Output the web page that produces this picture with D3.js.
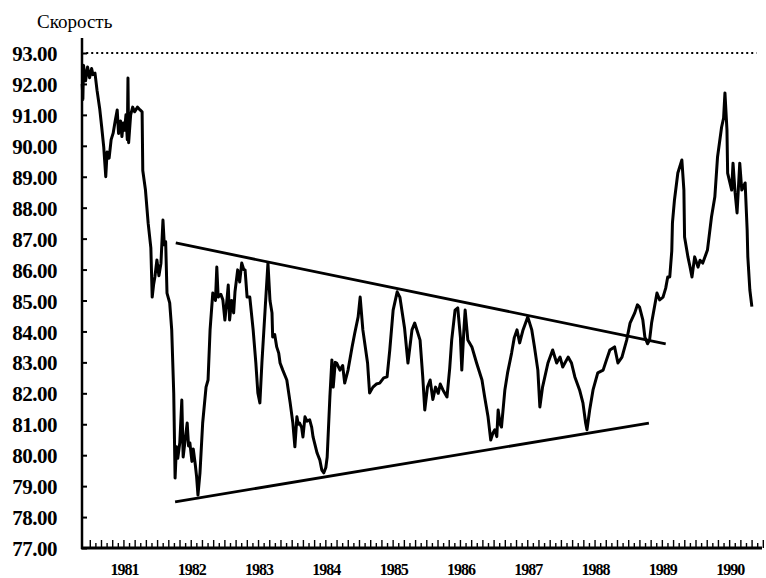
<!DOCTYPE html>
<html lang="ru">
<head>
<meta charset="utf-8">
<title>Скорость</title>
<script src="https://d3js.org/d3.v7.min.js"></script>
<style>
  body { margin: 0; background: #fff; }
  svg text { font-family: "Liberation Serif", "DejaVu Serif", serif; fill: #000; }
</style>
</head>
<body>
<script>
// series: decimal year and value
var years = [
  1980.88, 1980.89, 1980.90, 1980.93, 1980.96, 1980.99, 1981.02, 1981.04, 1981.07, 1981.10,
  1981.14, 1981.17, 1981.20, 1981.23, 1981.25, 1981.28, 1981.31, 1981.34, 1981.37, 1981.40,
  1981.42, 1981.45, 1981.47, 1981.49, 1981.51, 1981.53, 1981.55, 1981.56, 1981.57, 1981.60,
  1981.63, 1981.66, 1981.70, 1981.74, 1981.77, 1981.78, 1981.82, 1981.86, 1981.90, 1981.92,
  1981.94, 1981.96, 1981.99, 1982.02, 1982.05, 1982.08, 1982.10, 1982.12, 1982.14, 1982.18,
  1982.21, 1982.24, 1982.26, 1982.28, 1982.30, 1982.33, 1982.36, 1982.38, 1982.41, 1982.44,
  1982.46, 1982.48, 1982.51, 1982.53, 1982.56, 1982.58, 1982.60, 1982.63, 1982.67, 1982.72,
  1982.75, 1982.78, 1982.82, 1982.86, 1982.88, 1982.90, 1982.94, 1982.97, 1983.00, 1983.03,
  1983.05, 1983.07, 1983.10, 1983.13, 1983.15, 1983.19, 1983.22, 1983.25, 1983.28, 1983.30,
  1983.33, 1983.37, 1983.42, 1983.46, 1983.49, 1983.52, 1983.55, 1983.60, 1983.64, 1983.67,
  1983.70, 1983.71, 1983.74, 1983.77, 1983.80, 1983.82, 1983.86, 1983.92, 1983.97, 1984.01,
  1984.04, 1984.07, 1984.09, 1984.11, 1984.14, 1984.16, 1984.19, 1984.22, 1984.26, 1984.29,
  1984.31, 1984.37, 1984.41, 1984.44, 1984.47, 1984.50, 1984.52, 1984.56, 1984.59, 1984.61,
  1984.64, 1984.66, 1984.71, 1984.75, 1984.78, 1984.83, 1984.89, 1984.93, 1984.98, 1985.01,
  1985.05, 1985.12, 1985.15, 1985.20, 1985.25, 1985.30, 1985.36, 1985.41, 1985.45, 1985.50,
  1985.56, 1985.60, 1985.67, 1985.72, 1985.78, 1985.82, 1985.86, 1985.90, 1985.94, 1985.97,
  1986.01, 1986.05, 1986.09, 1986.13, 1986.17, 1986.20, 1986.24, 1986.30, 1986.34, 1986.37,
  1986.42, 1986.46, 1986.50, 1986.52, 1986.55, 1986.57, 1986.61, 1986.67, 1986.74, 1986.82,
  1986.86, 1986.91, 1986.95, 1986.98, 1987.01, 1987.04, 1987.06, 1987.09, 1987.11, 1987.16,
  1987.20, 1987.26, 1987.30, 1987.34, 1987.38, 1987.43, 1987.50, 1987.56, 1987.60, 1987.65,
  1987.68, 1987.72, 1987.80, 1987.87, 1987.93, 1987.98, 1988.02, 1988.10, 1988.15, 1988.20,
  1988.27, 1988.32, 1988.36, 1988.38, 1988.42, 1988.47, 1988.54, 1988.62, 1988.67, 1988.72,
  1988.79, 1988.84, 1988.90, 1988.97, 1989.02, 1989.09, 1989.13, 1989.16, 1989.21, 1989.24,
  1989.28, 1989.31, 1989.34, 1989.42, 1989.46, 1989.51, 1989.55, 1989.58, 1989.61, 1989.64,
  1989.65, 1989.68, 1989.73, 1989.79, 1989.82, 1989.83, 1989.88, 1989.91, 1989.94, 1989.98,
  1990.03, 1990.06, 1990.10, 1990.17, 1990.23, 1990.28, 1990.32, 1990.38, 1990.41, 1990.43,
  1990.46, 1990.47, 1990.53, 1990.55, 1990.58, 1990.61, 1990.65, 1990.68, 1990.73, 1990.76,
  1990.77, 1990.80, 1990.83
];
var speed = [
  92.0, 91.5, 92.6, 92.1, 92.55, 92.2, 92.5, 92.3, 92.35, 91.8,
  91.2, 90.6, 89.96, 89.0, 89.8, 89.6, 90.2, 90.41, 90.8, 91.16,
  90.4, 90.8, 90.3, 90.74, 90.5, 91.0, 90.2, 92.19, 90.1, 91.0,
  91.25, 91.1, 91.25, 91.16, 91.1, 89.2, 88.57, 87.5, 86.7, 85.11,
  85.5, 85.76, 86.31, 85.8, 86.2, 87.6, 86.8, 86.9, 85.24, 84.92,
  84.05, 82.0, 79.26, 80.27, 79.9, 80.4, 81.78, 79.94, 80.5, 81.04,
  80.3, 80.4, 79.8, 80.2, 79.7, 79.3, 78.71, 79.43, 81.04, 82.2,
  82.43, 84.05, 85.24, 85.0, 86.08, 85.11, 85.2, 85.02, 84.37, 85.0,
  85.5, 84.37, 85.0, 84.6, 85.28, 85.99, 85.6, 86.21, 86.0, 85.99,
  85.11, 85.11, 84.05, 82.98, 82.01, 81.69, 82.98, 84.79, 86.21, 85.0,
  84.6, 83.82, 83.9, 83.5, 83.3, 82.98, 82.75, 82.43, 81.69, 81.04,
  80.27, 81.24, 81.0, 81.04, 80.9, 80.59, 81.24, 81.1, 81.14, 80.9,
  80.59, 80.07, 79.85, 79.52, 79.43, 79.6, 79.94, 81.88, 83.08, 82.2,
  83.0, 82.98, 82.75, 82.9, 82.33, 82.75, 83.5, 83.95, 84.47, 85.11,
  84.05, 82.98, 82.01, 82.2, 82.3, 82.33, 82.5, 82.53, 83.4, 84.69,
  85.28, 85.11, 84.1, 82.98, 84.05, 84.27, 84.0, 83.72, 82.53, 81.46,
  82.2, 82.43, 81.8, 82.2, 82.0, 82.3, 82.11, 81.88, 82.8, 83.72,
  84.69, 84.76, 83.8, 82.75, 84.0, 84.69, 83.72, 83.5, 82.98, 82.43,
  81.88, 81.24, 80.49, 80.7, 80.82, 80.6, 81.46, 81.0, 80.91, 82.11,
  82.66, 83.3, 83.8, 84.05, 83.63, 84.05, 84.47, 84.05, 83.5, 82.75,
  81.56, 82.2, 82.98, 83.4, 82.98, 83.17, 82.85, 83.17, 82.98, 82.53,
  82.11, 81.69, 81.04, 80.82, 81.46, 82.11, 82.66, 82.75, 83.08, 83.4,
  83.5, 82.98, 83.17, 83.72, 84.27, 84.6, 84.86, 84.79, 84.37, 83.82,
  83.6, 83.72, 84.27, 85.24, 85.02, 85.11, 85.4, 85.76, 85.76, 86.6,
  87.51, 88.25, 89.12, 89.54, 88.57, 87.05, 86.41, 86.1, 85.76, 86.41,
  86.08, 86.3, 86.21, 86.63, 87.7, 88.35, 89.64, 90.6, 90.9, 91.71,
  90.51, 89.12, 88.57, 89.44, 88.5, 87.83, 89.44, 88.57, 88.8, 87.28,
  86.41, 85.34, 84.8
];

// triangle boundaries: [start year, end year] and [start value, end value]
var upperYears = [1982.27, 1989.55];
var upperVals = [86.86, 83.6];
var lowerYears = [1982.26, 1989.30];
var lowerVals = [78.49, 81.04];

// dotted reference level
var refYears = [1980.94, 1990.90];
var refVal = 93;

var yTicks = [77, 78, 79, 80, 81, 82, 83, 84, 85, 86, 87, 88, 89, 90, 91, 92, 93];
var yearLabels = [1981, 1982, 1983, 1984, 1985, 1986, 1987, 1988, 1989, 1990];

var width = 766, height = 578;

var svg = d3.select("body").append("svg")
  .attr("width", width)
  .attr("height", height);

var x = d3.scaleLinear().domain([1980.877, 1991.04]).range([82, 766]);
var y = d3.scaleLinear().domain([77, 93]).range([548, 53]);

// title of the value axis
svg.append("text")
  .attr("x", 37)
  .attr("y", 28)
  .attr("font-size", 19)
  .text("Скорость");

// y axis: ticks point inward
var yAxis = d3.axisLeft(y)
  .tickValues(yTicks)
  .tickFormat(d3.format(".2f"))
  .tickSizeInner(-5)
  .tickSizeOuter(0)
  .tickPadding(25);

var gy = svg.append("g")
  .attr("transform", "translate(82,0)")
  .call(yAxis);
gy.select(".domain").remove();
gy.selectAll(".tick line").attr("stroke", "#000").attr("stroke-width", 2);
gy.selectAll("text")
  .attr("font-size", 21)
  .attr("font-weight", "bold")
  .attr("letter-spacing", -0.5)
  .attr("font-family", "Liberation Serif, serif")
  .attr("dy", "0.36em");

svg.append("line")
  .attr("x1", 82).attr("x2", 82)
  .attr("y1", 38).attr("y2", 549)
  .attr("stroke", "#000").attr("stroke-width", 2.5);

// x axis: monthly ticks pointing up, year labels mid-year
var months = d3.range(1981, 1991.01, 1 / 12);
svg.append("g").selectAll("line")
  .data(months)
  .join("line")
  .attr("x1", d => x(d)).attr("x2", d => x(d))
  .attr("y1", 548)
  .attr("y2", (d, i) => 548 - (i % 2 === 0 ? 8 : 5))
  .attr("stroke", "#000").attr("stroke-width", 1.4);

var xAxis = d3.axisBottom(x)
  .tickValues(yearLabels.map(d => d + 0.5))
  .tickFormat(d => Math.floor(d))
  .tickSize(0)
  .tickPadding(16);

var gx = svg.append("g")
  .attr("transform", "translate(0,548)")
  .call(xAxis);
gx.select(".domain").remove();
gx.selectAll("text")
  .attr("font-size", 16)
  .attr("font-weight", "bold")
  .attr("letter-spacing", -1)
  .attr("font-family", "Liberation Serif, serif");

svg.append("line")
  .attr("x1", 81).attr("x2", 762)
  .attr("y1", 548).attr("y2", 548)
  .attr("stroke", "#000").attr("stroke-width", 3);

// dotted level at 93
svg.append("line")
  .attr("x1", x(refYears[0])).attr("x2", x(refYears[1]))
  .attr("y1", y(refVal)).attr("y2", y(refVal))
  .attr("stroke", "#000").attr("stroke-width", 2)
  .attr("stroke-dasharray", "2,3");

// triangle lines
var bound = d3.line().x(d => x(d[0])).y(d => y(d[1]));
svg.append("path")
  .attr("d", bound(d3.zip(upperYears, upperVals)))
  .attr("fill", "none").attr("stroke", "#000").attr("stroke-width", 2.8);
svg.append("path")
  .attr("d", bound(d3.zip(lowerYears, lowerVals)))
  .attr("fill", "none").attr("stroke", "#000").attr("stroke-width", 2.8);

// the series itself
var line = d3.line().x(d => x(d[0])).y(d => y(d[1]));
svg.append("path")
  .attr("d", line(d3.zip(years, speed)))
  .attr("fill", "none")
  .attr("stroke", "#000")
  .attr("stroke-width", 3)
  .attr("stroke-linejoin", "round");
</script>
</body>
</html>
